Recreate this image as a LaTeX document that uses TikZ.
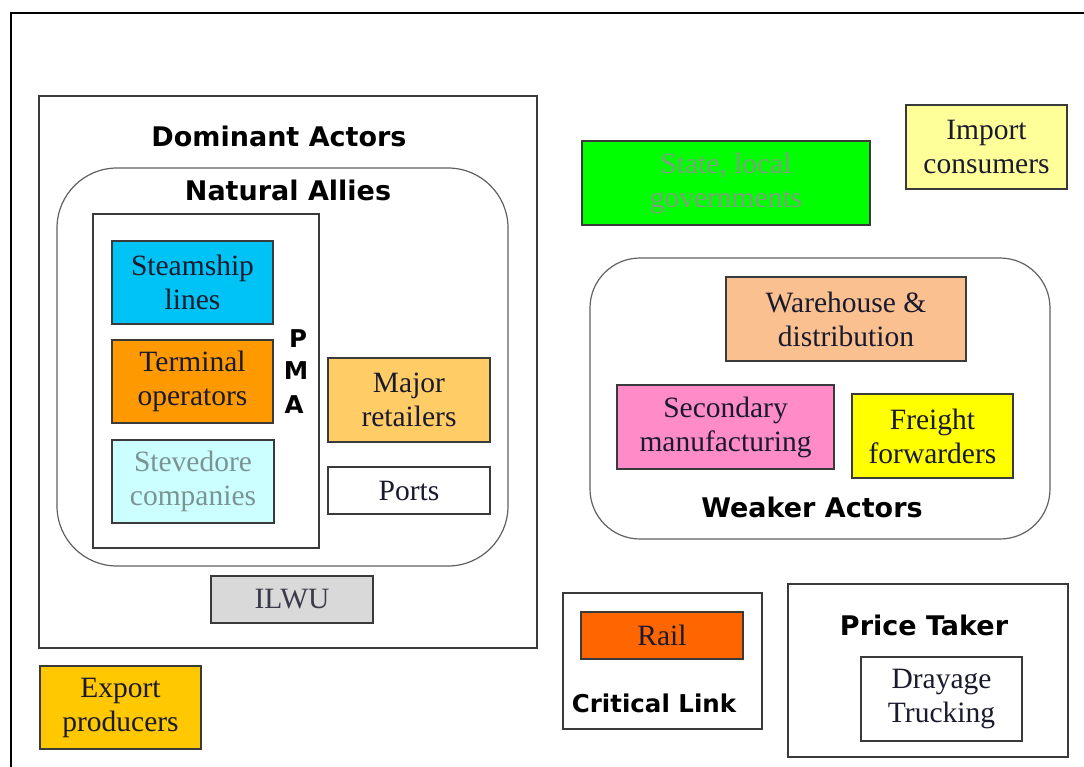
\documentclass[tikz,border=0pt]{standalone}
\usepackage{fontspec}
\setmainfont{Liberation Serif}
\newfontfamily\hdfont{DejaVu Sans}
\definecolor{txt}{HTML}{1A1A2E}
\definecolor{edge}{HTML}{3A3A3A}
\definecolor{cSteam}{HTML}{00C3F5}
\definecolor{cTerm}{HTML}{FF9900}
\definecolor{cStev}{HTML}{CCFFFF}
\definecolor{tStev}{HTML}{7C9393}
\definecolor{cMajor}{HTML}{FFCC66}
\definecolor{cIlwu}{HTML}{D9D9D9}
\definecolor{tIlwu}{HTML}{3A3A4A}
\definecolor{cExport}{HTML}{FFC800}
\definecolor{cState}{HTML}{00FF00}
\definecolor{tState}{HTML}{7FA07F}
\definecolor{cImport}{HTML}{FFFF99}
\definecolor{cWare}{HTML}{FAC090}
\definecolor{cSec}{HTML}{FF8CC8}
\definecolor{cFreight}{HTML}{FFFF00}
\definecolor{cRail}{HTML}{FF6600}
\tikzset{
  box/.style={draw=edge, line width=1.2pt, rectangle, inner sep=0pt, align=center,
    text=txt, font=\fontsize{29.5}{34}\selectfont},
  frame/.style={draw=edge, line width=1.2pt, rectangle, inner sep=0pt},
  rframe/.style={draw=edge!80, line width=1.2pt, rectangle, inner sep=0pt},
  title/.style={text=black, inner sep=0pt, font=\hdfont\bfseries\fontsize{27}{30}\selectfont},
  small title/.style={text=black, inner sep=0pt, font=\hdfont\bfseries\fontsize{24.5}{28}\selectfont},
}
\begin{document}
\begin{tikzpicture}[x=1pt,y=-1pt]
\useasboundingbox (0,0) rectangle (1084,766);
\fill[white] (0,0) rectangle (1084,766);
% outer frame
\coordinate (fa) at (11,766);
\coordinate (fb) at (11,13);
\coordinate (fc) at (1084,13);
\draw[line width=2.6pt, line cap=rect] (fa) -- (fb) -- (fc);

% Dominant actors
\node[frame, minimum width=498, minimum height=552] (dom) at (288,372) {};
\node[title] (domt) at (279,136) {Dominant Actors};
\node[rframe, rounded corners=60, minimum width=451, minimum height=398] (nat) at (282.5,367) {};
\node[title] (natt) at (288,190) {Natural Allies};
\node[frame, minimum width=226, minimum height=334] (pma) at (206,381) {};
\node[small title] (pmaP) at (298,339) {P};
\node[small title] (pmaM) at (296,371) {M};
\node[small title] (pmaA) at (294,405) {A};
\node[box, fill=cSteam, minimum width=161, minimum height=83] (steam) at (192.5,282.5) {Steamship\\lines};
\node[box, fill=cTerm, minimum width=161, minimum height=83] (term) at (192.5,381.5) {Terminal\\operators};
\node[box, fill=cStev, text=tStev, minimum width=162, minimum height=83] (stev) at (193,481.5) {Stevedore\\companies};
\node[box, fill=cMajor, minimum width=162, minimum height=84] (major) at (409,400) {Major\\retailers};
\node[box, fill=white, minimum width=162, minimum height=47] (ports) at (409,490.5) {Ports};
\node[box, fill=cIlwu, text=tIlwu, minimum width=162, minimum height=47] (ilwu) at (292,599.5) {ILWU};

\node[box, fill=cExport, minimum width=161, minimum height=83] (export) at (120.5,707.5) {Export\\producers};

% right side
\node[box, fill=cState, text=tState, minimum width=288, minimum height=84] (state) at (726,183) {State, local\\governments};
\node[box, fill=cImport, minimum width=161, minimum height=84] (import) at (986.5,147) {Import\\consumers};

\node[rframe, rounded corners=50, minimum width=460, minimum height=281] (weak) at (820,398.5) {};
\node[box, fill=cWare, minimum width=240, minimum height=84] (ware) at (846,319) {Warehouse \&\\distribution};
\node[box, fill=cSec, minimum width=217, minimum height=84] (sec) at (725.5,427) {Secondary\\manufacturing};
\node[box, fill=cFreight, minimum width=161, minimum height=84] (freight) at (932.5,436) {Freight\\forwarders};
\node[title] (weakt) at (812,507) {Weaker Actors};

\node[frame, minimum width=199, minimum height=136] (crit) at (662.5,661) {};
\node[box, fill=cRail, minimum width=162, minimum height=47] (rail) at (662,635.5) {Rail};
\node[small title] (critt) at (654,703) {Critical Link};

\node[frame, minimum width=280, minimum height=173] (price) at (928,670.5) {};
\node[title] (pricet) at (924,625) {Price Taker};
\node[box, fill=white, minimum width=161, minimum height=84] (dray) at (941.5,699) {Drayage\\Trucking};
\end{tikzpicture}
\end{document}
